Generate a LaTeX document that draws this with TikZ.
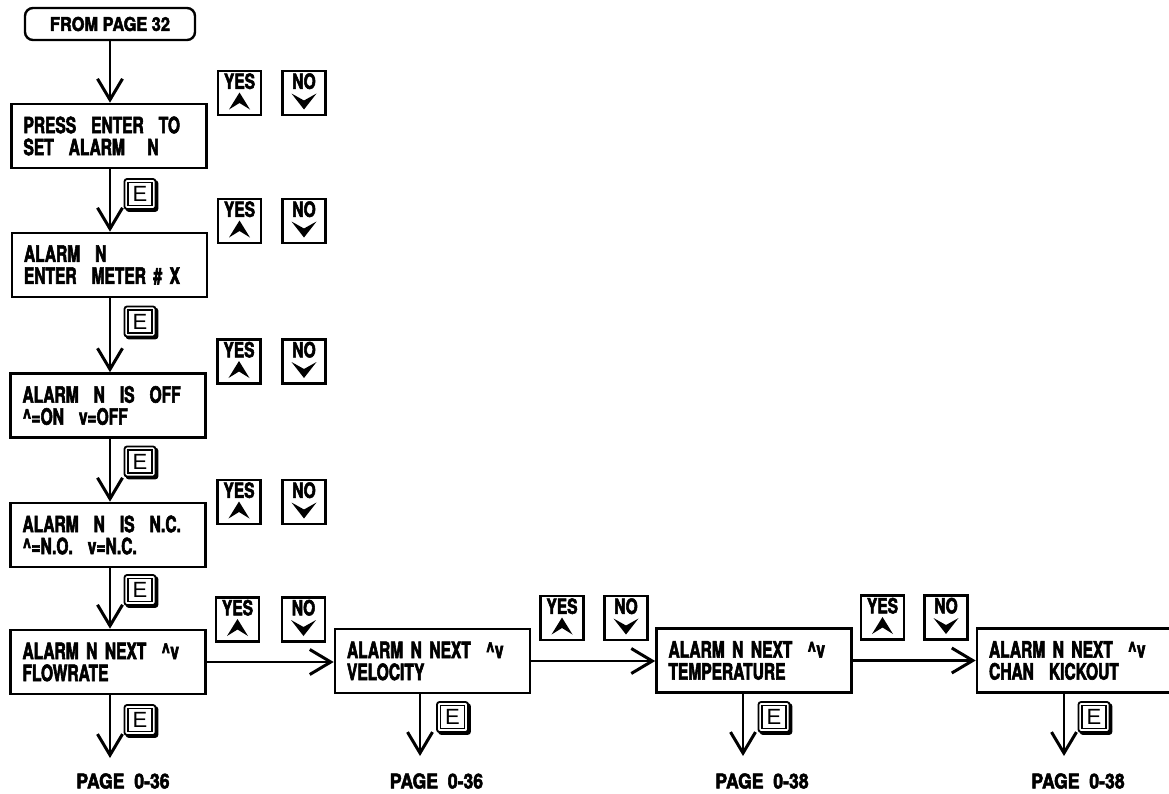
\documentclass[tikz,border=0pt]{standalone}
\usepackage{fontspec}
\usetikzlibrary{arrows.meta}
\newfontfamily\hv[FakeStretch=0.69,FakeBold=2.5]{TeX Gyre Heros}
\newfontfamily\hvk[FakeStretch=0.74,FakeBold=2.5]{TeX Gyre Heros}
\newfontfamily\hvw[FakeStretch=0.86,FakeBold=2.5]{TeX Gyre Heros}
\newfontfamily\lsans{Liberation Sans}
\newcommand\YesKey[3]{%
  \node[keybox] (#1) at (#2,#3) {};
  \node[keytext] (#1t) at ([yshift=-3.2pt]#1.north) {YES};
  \fill[shift={(#1.center)}] (0,-0.5) -- (10.5,16.5) -- (0,10) -- (-10.5,16.5) -- cycle;}
\newcommand\NoKey[3]{%
  \node[keybox] (#1) at (#2,#3) {};
  \node[keytext] (#1t) at ([yshift=-3.2pt]#1.north) {NO};
  \fill[shift={(#1.center)}] (-12.5,0.5) -- (0,7.5) -- (12.5,0.5) -- (0,16.5) -- cycle;}
\begin{document}
\begin{tikzpicture}[x=1pt,y=-1pt,
  box/.style={draw, line width=2.6pt, minimum height=64pt, text width=171pt,
    inner xsep=12pt, inner ysep=0pt, align=left,
    font=\hv\bfseries\fontsize{22.5}{22}\selectfont},
  startbox/.style={draw, line width=2.4pt, rounded corners=8pt, minimum width=170pt,
    minimum height=32pt, inner sep=0pt, font=\hvw\bfseries\fontsize{19}{20}\selectfont},
  pagelabel/.style={inner sep=0pt, font=\hvw\bfseries\fontsize{20.5}{20}\selectfont},
  keybox/.style={draw, line width=2.2pt, minimum width=43pt, minimum height=44pt, inner sep=0pt},
  keytext/.style={anchor=north, inner sep=0pt, font=\hvk\bfseries\fontsize{21}{20}\selectfont},
  ekey/.style={draw, fill=white, line width=1.8pt, rounded corners=2.5pt,
    minimum width=31pt, minimum height=30pt, inner sep=0pt,
    font=\lsans\fontsize{22}{22}\selectfont,
    preaction={draw, fill=black, line width=1.8pt,
      transform canvas={shift={(2pt,-2pt)}}},
    path picture={\draw[line width=1.4pt, sharp corners]
      ([shift={(3.6pt,-3.6pt)}]path picture bounding box.north west) rectangle
      ([shift={(-3.6pt,3.6pt)}]path picture bounding box.south east);}},
  arr/.style={line width=2.5pt, -{Straight Barb[length=21pt,width=25pt,line width=3pt]}}
]
\useasboundingbox (0,0) rectangle (1169,793);
\clip (0,0) rectangle (1169,793);
\fill[white] (0,0) rectangle (1169,793);

% start
\node[startbox] (from) at (110,24) {FROM PAGE 32};

% left column boxes
\node[box] (b1) at (109,136) {\mbox{PRESS\ \ ENTER\ \ TO}\\\mbox{SET\ \ ALARM\ \ \ N}};
\node[box] (b2) at (109.5,265) {\mbox{ALARM\ \ N}\\\mbox{ENTER\ \ METER \# X}};
\node[box] (b3) at (108,405.5) {\mbox{ALARM\ \ N\ \ IS\ \ OFF}\\\mbox{\textasciicircum=ON\ \ v=OFF}};
\node[box] (b4) at (108,535) {\mbox{ALARM\ \ N\ \ IS\ \ N.C.}\\\mbox{\textasciicircum=N.O.\ \ v=N.C.}};

% bottom row boxes
\node[box] (b5) at (108,662) {\mbox{ALARM N NEXT\ \ \textasciicircum v}\\\mbox{FLOWRATE}};
\node[box] (b6) at (432.5,661) {\mbox{ALARM N NEXT\ \ \textasciicircum v}\\\mbox{VELOCITY}};
\node[box] (b7) at (754,660.5) {\mbox{ALARM N NEXT\ \ \textasciicircum v}\\\mbox{TEMPERATURE}};
\node[box] (b8) at (1074.5,660.5) {\mbox{ALARM N NEXT\ \ \textasciicircum v}\\\mbox{CHAN\ \ KICKOUT}};

% YES / NO keys
\YesKey{y1}{239.5}{93}    \NoKey{n1}{304}{93}
\YesKey{y2}{239.5}{221}   \NoKey{n2}{304}{221}
\YesKey{y3}{239}{361.5}   \NoKey{n3}{304}{361.5}
\YesKey{y4}{239}{502}     \NoKey{n4}{304}{502}
\YesKey{y5}{237.5}{619.5} \NoKey{n5}{303.5}{619.5}
\YesKey{y6}{562}{618}     \NoKey{n6}{626}{618}
\YesKey{y7}{882.5}{617.5} \NoKey{n7}{946}{617.5}

% vertical connectors
\draw[arr] (from.south) -- (from.south |- b1.north);
\draw[arr] (b1.south -| from.south) -- (from.south |- b2.north);
\draw[arr] (b2.south -| from.south) -- (from.south |- b3.north);
\draw[arr] (b3.south -| from.south) -- (from.south |- b4.north);
\draw[arr] (b4.south -| from.south) -- (from.south |- b5.north);

% horizontal connectors
\draw[arr] (b5.east) -- (b6.west |- b5.east);
\draw[arr] (b6.east) -- (b7.west |- b6.east);
\draw[arr] (b7.east) -- (b8.west |- b7.east);

% exits
\coordinate (c5) at (110,758);
\coordinate (c6) at (420,756);
\coordinate (c7) at (743,756);
\coordinate (c8) at (1064,756);
\draw[arr] (b5.south -| c5) -- (c5);
\draw[arr] (b6.south -| c6) -- (c6);
\draw[arr] (b7.south -| c7) -- (c7);
\draw[arr] (b8.south -| c8) -- (c8);

\node[pagelabel] (p5) at (123,781) {PAGE\ \ 0-36};
\node[pagelabel] (p6) at (436.5,781) {PAGE\ \ 0-36};
\node[pagelabel] (p7) at (762,781) {PAGE\ \ 0-38};
\node[pagelabel] (p8) at (1078,781) {PAGE\ \ 0-38};

% E keys
\node[ekey] (e1) at (140,194) {E};
\node[ekey] (e2) at (140,321.5) {E};
\node[ekey] (e3) at (140,461.5) {E};
\node[ekey] (e4) at (140,590) {E};
\node[ekey] (e5) at (140,720) {E};
\node[ekey] (e6) at (452.5,717) {E};
\node[ekey] (e7) at (774,717) {E};
\node[ekey] (e8) at (1094,717) {E};
\end{tikzpicture}
\end{document}
